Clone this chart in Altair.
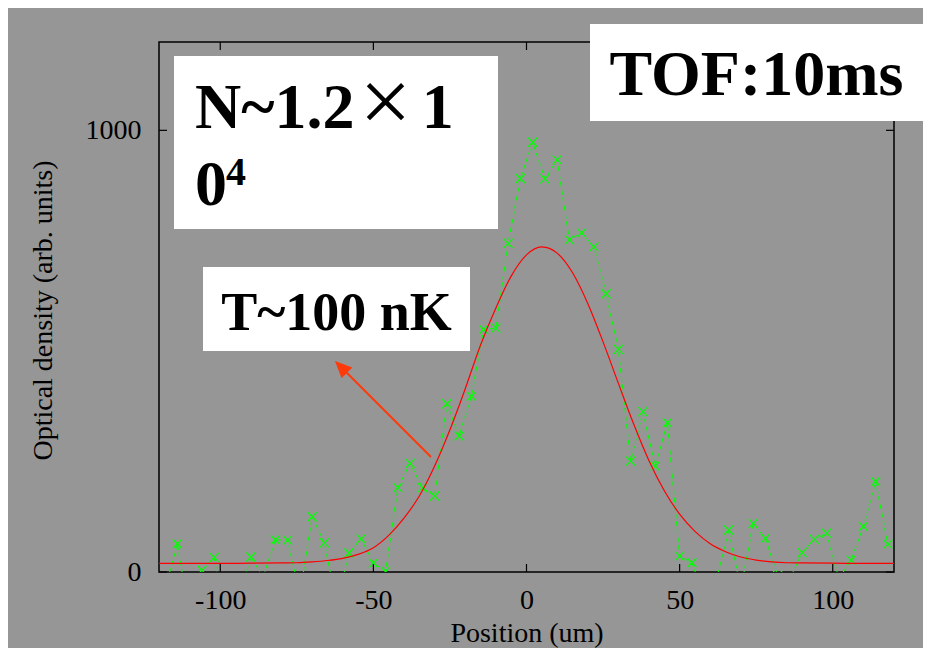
import altair as alt
import pandas as pd

pos_um = [-118, -114, -110, -106, -102, -98, -94, -90, -86, -82,
          -78, -74, -70, -66, -62, -58, -54, -50, -46, -42,
          -38, -34, -30, -26, -22, -18, -14, -10, -6, -2,
          2, 6, 10, 14, 18, 22, 26, 30, 34, 38,
          42, 46, 50, 54, 58, 62, 66, 70, 74, 78,
          82, 86, 90, 94, 98, 102, 106, 110, 114, 118]
od = [-38, 64, -100, 4, 33, -130, -63, 34, -12, 73,
      72, -50, 125, 66, -72, 43, 75, 20, 2, 191,
      246, 191, 172, 381, 308, 398, 549, 552, 744, 891,
      973, 890, 933, 752, 768, 736, 630, 504, 251, 363,
      240, 338, 36, 21, -57, -17, 95, -39, 110, 76,
      -8, -15, 44, 74, 88, -15, 27, 103, 205, 63]

# ---- fitted curve (red) ----
fit_x = [-120, -110, -100, -90, -80, -75, -70, -65, -60, -55,
         -50, -45, -40, -35, -30, -25, -20, -15, -10, -5,
         0, 5, 10, 15, 20, 25, 30, 35, 40, 45,
         50, 55, 60, 65, 70, 75, 80, 85, 90, 100, 110, 120]
fit_y = [19.5, 19.5, 19.5, 20, 20.5, 21, 23, 26, 31, 40,
         55, 83, 122, 172, 240, 322, 415, 514, 598, 670,
         718, 736, 722, 678, 608, 521, 427, 335, 252, 184,
         131, 92, 64, 46, 34, 27, 23, 21, 20.5, 20, 19.5, 19.5]

x_ticks = [-100, -50, 0, 50, 100]
y_ticks = [0, 1000]

W, H = 735, 530
FONT = "Liberation Serif"
BG = "#969696"
ARROW = "#ff3a0a"
FS = 28

xs = alt.Scale(domain=[-120, 120], nice=False, zero=False)
ys = alt.Scale(domain=[0, 1200], nice=False, zero=False)

data_df = pd.DataFrame({"x": pos_um, "y": od})
fit_df = pd.DataFrame({"x": fit_x, "y": fit_y})
xt_df = pd.DataFrame({"x": x_ticks})
yt_df = pd.DataFrame({"y": y_ticks})
one = pd.DataFrame({"a": [0]})

xaxis = alt.Axis(values=x_ticks, labelExpr="'' + datum.value", ticks=False, tickSize=0,
                 domain=False, grid=False, labelFont=FONT, labelFontSize=FS,
                 labelColor="black", labelPadding=14, title="Position (um)",
                 titleFont=FONT, titleFontSize=FS, titleFontWeight="normal",
                 titleColor="black", titleBaseline="alphabetic", titleY=69)
yaxis = alt.Axis(values=y_ticks, labelExpr="'' + datum.value", ticks=False, tickSize=0,
                 domain=False, grid=False, labelFont=FONT, labelFontSize=FS,
                 labelColor="black", labelPadding=18,
                 title="Optical density (arb. units)", titleFont=FONT,
                 titleFontSize=FS, titleFontWeight="normal", titleColor="black",
                 titleAngle=270, titleBaseline="alphabetic", titleAlign="center",
                 titleX=-108, titleY=268)

line = alt.Chart(data_df).mark_line(color="#00ff00", strokeWidth=1, strokeDash=[5, 3],
                                    clip=True).encode(
    x=alt.X("x:Q", scale=xs, axis=xaxis), y=alt.Y("y:Q", scale=ys, axis=yaxis))
pts = alt.Chart(data_df).mark_point(shape="M-1,-1L1,1M-1,1L1,-1", size=81, filled=False,
                                    color="#00ff00", strokeWidth=1.2, opacity=1,
                                    clip=True).encode(x="x:Q", y="y:Q")
fit = alt.Chart(fit_df).mark_line(color="#ff0000", strokeWidth=1.2, interpolate="monotone",
                                  clip=True).encode(x="x:Q", y="y:Q")

tick_b = alt.Chart(xt_df).mark_rule(color="black", strokeWidth=1.2).encode(
    x="x:Q", y=alt.value(H), y2=alt.value(H - 8))
tick_t = alt.Chart(xt_df).mark_rule(color="black", strokeWidth=1.2).encode(
    x="x:Q", y=alt.value(0), y2=alt.value(8))
tick_l = alt.Chart(yt_df).mark_rule(color="black", strokeWidth=1.2).encode(
    y="y:Q", x=alt.value(0), x2=alt.value(8))
tick_r = alt.Chart(yt_df).mark_rule(color="black", strokeWidth=1.2).encode(
    y="y:Q", x=alt.value(W), x2=alt.value(W - 8))


def box(x1, x2, y1, y2):
    return alt.Chart(one).mark_rect(color="white", opacity=1).encode(
        x=alt.value(x1), x2=alt.value(x2), y=alt.value(y1), y2=alt.value(y2))


def label(txt, x, y, size, align="left", weight="bold", baseline="alphabetic"):
    return alt.Chart(one).mark_text(text=txt, font=FONT, fontSize=size, fontWeight=weight,
                                    align=align, baseline=baseline, color="black").encode(
        x=alt.value(x), y=alt.value(y))


box_n = box(15, 339, 14, 187)
t_n1 = label("N~1.2", 36, 86, 64)
t_times = label("\u00d7", 226.5, 90, 92, align="center", weight="normal")
t_one = label("1", 262.7, 86, 64)
t_zero = label("0", 36, 163, 64)
t_four = label("4", 67, 143, 40)

box_tof = box(431, 764, -18, 79)
t_tof = label("TOF:10ms", 597.5, 53, 64, align="center")

box_t = box(44, 311, 225, 309)
t_t = label("T~100 nK", 177.5, 288, 54, align="center")

arrow = alt.Chart(one).mark_rule(color=ARROW, strokeWidth=2).encode(
    x=alt.value(272), y=alt.value(415), x2=alt.value(186), y2=alt.value(329))
head = alt.Chart(one).mark_point(shape="M0,-1L0.8,0.8L-0.8,0.8Z", filled=True, color=ARROW,
                                 size=354, angle=315, opacity=1).encode(
    x=alt.value(182.6), y=alt.value(325.6))

chart = alt.layer(
    line, pts, fit, tick_b, tick_t, tick_l, tick_r,
    box_n, t_n1, t_times, t_one, t_zero, t_four,
    box_tof, t_tof, box_t, t_t, arrow, head
).properties(
    width=W, height=H, background=BG,
    padding={"left": 151, "top": 34, "right": 29, "bottom": 76},
    autosize=alt.AutoSizeParams(type="none"),
).configure_view(stroke="black", strokeWidth=1.5)

chart.save("out.html", embed_options={"renderer": "svg", "actions": False})
